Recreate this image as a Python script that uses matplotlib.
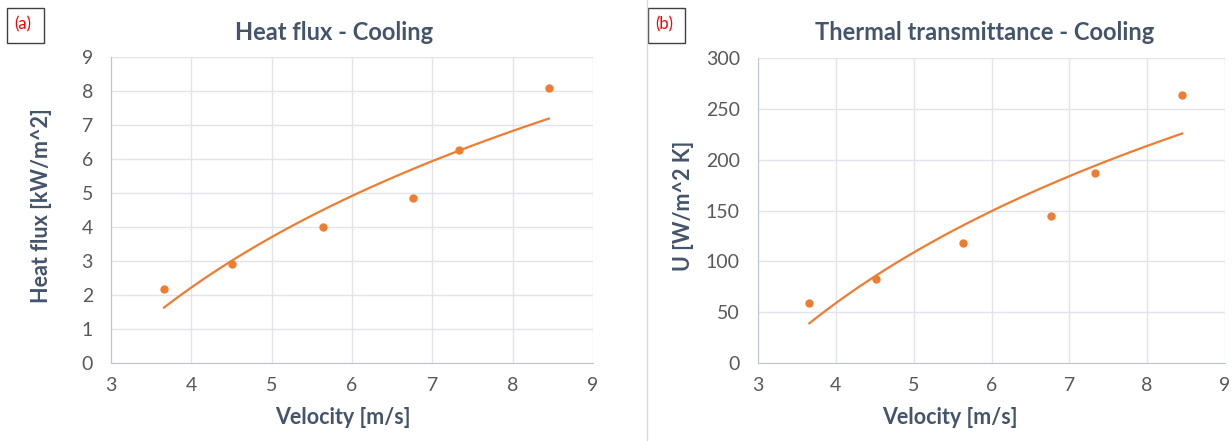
#!/usr/bin/env python3
"""Cooling test: heat flux and thermal transmittance vs air velocity, with Excel-style log trendlines."""
import matplotlib
import numpy as np

matplotlib.use("Agg")
import matplotlib.pyplot as plt  # noqa: E402
from matplotlib.lines import Line2D  # noqa: E402
from matplotlib.patches import Rectangle  # noqa: E402

plt.rcParams["font.family"] = ["Lato", "DejaVu Sans"]

velocity = [3.66, 4.51, 5.64, 6.76, 7.33, 8.45]
heat_flux = [2.18, 2.91, 4.00, 4.85, 6.26, 8.09]
u_value = [59, 83, 118, 145, 187, 264]

x_ticks = [3, 4, 5, 6, 7, 8, 9]
flux_ticks = [0, 1, 2, 3, 4, 5, 6, 7, 8, 9]
u_ticks = [0, 50, 100, 150, 200, 250, 300]

ORANGE = "#ED7D31"
TEXT = "#44546A"
TICK = "#595959"
GRID = "#E1E4EA"
SPINE = "#BFC5CF"
W, H = 1232, 441


def fx(px):
    return px / W


def fy(py):
    return 1 - py / H


def log_trend(x, y, n=100):
    # same as Excel's logarithmic trendline: y = a ln(x) + b
    a, b = np.polyfit(np.log(x), y, 1)
    xs = np.linspace(min(x), max(x), n)
    return xs, a * np.log(xs) + b


def panel(fig, rect, y, yticks, title, ylabel, title_x, ylabel_x, xlabel_x):
    ax = fig.add_axes(rect)
    ax.plot(velocity, y, "o", color=ORANGE, ms=5, zorder=3)
    xs, ys = log_trend(velocity, y)
    ax.plot(xs, ys, color=ORANGE, lw=1.6, zorder=3)
    ax.set_xlim(x_ticks[0], x_ticks[-1]); ax.set_ylim(yticks[0], yticks[-1])
    ax.set_xticks(x_ticks); ax.set_yticks(yticks)
    ax.grid(True, color=GRID, lw=1)
    ax.set_axisbelow(True)
    for s in ("top", "right"):
        ax.spines[s].set_visible(False)
    for s in ("left", "bottom"):
        ax.spines[s].set_color(SPINE)
    ax.tick_params(length=0, labelsize=14, colors=TICK)
    ax.tick_params(axis="y", pad=13)
    ax.tick_params(axis="x", pad=10)
    fig.text(fx(title_x), fy(33), title, ha="center", va="center",
             fontsize=17, fontweight="bold", color=TEXT)
    fig.text(fx(xlabel_x), fy(417), "Velocity [m/s]", ha="center", va="center",
             fontsize=15.5, fontweight="bold", color=TEXT)
    fig.text(fx(ylabel_x), fy(206), ylabel, ha="center", va="center", rotation=90,
             fontsize=15.5, fontweight="bold", color=TEXT)
    return ax


def tag(fig, x0, label):
    fig.patches.append(Rectangle((fx(x0), fy(43)), 37 / W, 35 / H, transform=fig.transFigure,
                                 facecolor="white", edgecolor="#404040", lw=1.0))
    fig.text(fx(x0 + 16), fy(24), label, ha="center", va="center", fontsize=12, color="#FF0000")


def main():
    fig = plt.figure(figsize=(W / 100, H / 100), dpi=100)

    panel(fig, [fx(111), fy(363), (593 - 111) / W, (363 - 57) / H], heat_flux, flux_ticks,
          "Heat flux - Cooling", "Heat flux [kW/m^2]", 334, 42, 343)
    panel(fig, [fx(758), fy(363), (1225 - 758) / W, (363 - 58) / H], u_value, u_ticks,
          "Thermal transmittance - Cooling", "U [W/m^2 K]", 985, 684, 950)

    # border between the two chart objects
    fig.lines.append(Line2D([fx(647), fx(647)], [0, 1], transform=fig.transFigure, color="#D9D9D9", lw=1))
    tag(fig, 7, "(a)")
    tag(fig, 648, "(b)")

    fig.savefig("out.png", dpi=100)


if __name__ == "__main__":
    main()
